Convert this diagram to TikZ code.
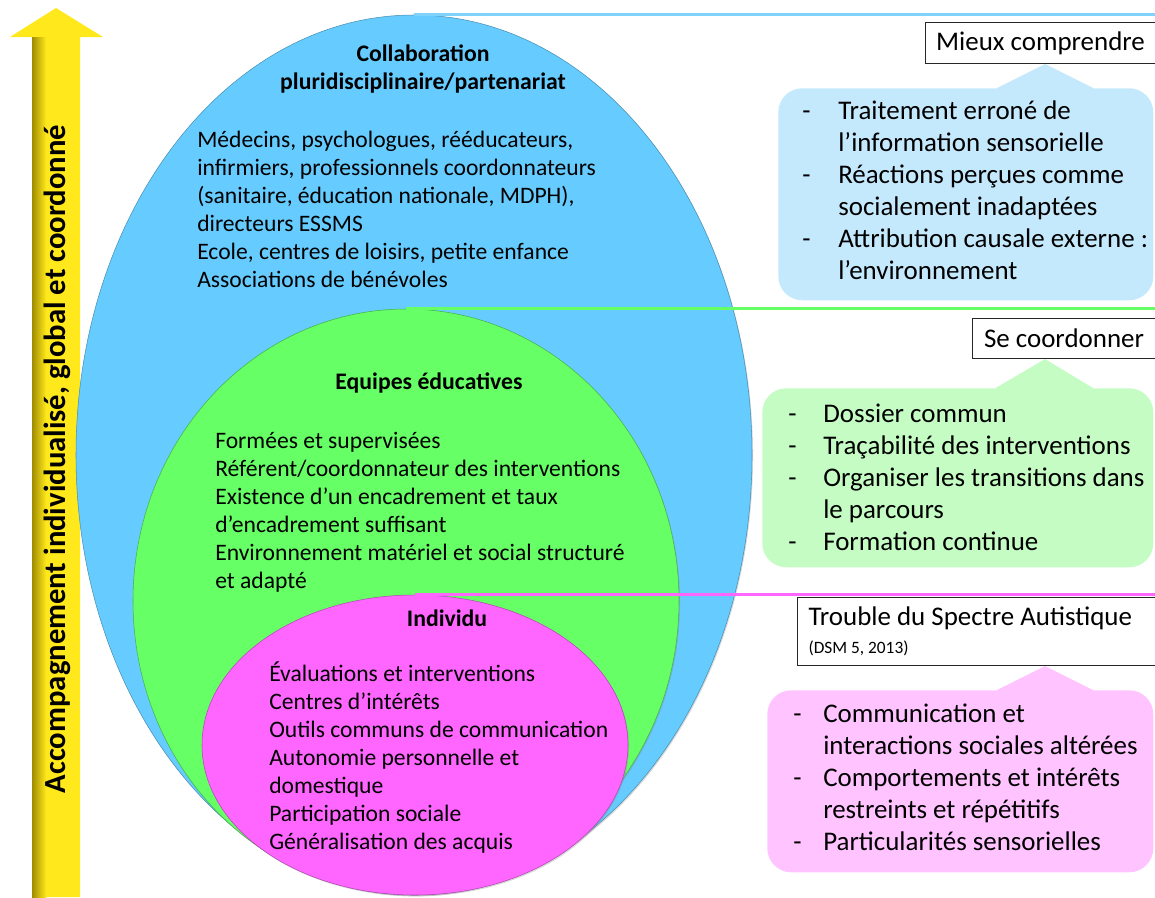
\documentclass[tikz,border=0pt]{standalone}
\usepackage{fontspec}
\setmainfont{Carlito}
\usetikzlibrary{shapes.geometric,shadows}

\definecolor{ringBlue}{HTML}{66CCFF}
\definecolor{ringGreen}{HTML}{66FF66}
\definecolor{ringPink}{HTML}{FF66FF}
\definecolor{lineBlue}{HTML}{80D2FF}
\definecolor{noteBlue}{HTML}{C5E9FC}
\definecolor{noteGreen}{HTML}{C4FCC4}
\definecolor{notePink}{HTML}{FFC4FF}
\definecolor{axisYellow}{HTML}{FFE81C}
\definecolor{axisShade}{HTML}{A08C00}

\newcommand\dashitem[1]{\makebox[#1][l]{-}}

\begin{document}
\begin{tikzpicture}[x=0.75pt,y=-0.75pt,
  ring/.style={ellipse, inner sep=0, fill=#1, draw=#1!70!black, line width=0.4pt,
    drop shadow={shadow xshift=0.8pt, shadow yshift=-1pt, opacity=0.3}},
  level/.style={line width=2.25pt},
  head/.style={font=\fontsize{17.8}{21}\selectfont\bfseries, align=center, inner sep=0},
  body/.style={font=\fontsize{17.7}{21}\selectfont, align=flush left, inner sep=0, anchor=north west},
  tag/.style={draw=black!85, line width=0.75pt, fill=white, anchor=north west,
    font=\fontsize{20.2}{22}\selectfont, inner sep=0},
  note/.style={rounded corners=18pt, fill=#1, anchor=north west, inner sep=0},
  notetext/.style={font=\fontsize{20.2}{24}\selectfont, align=flush left, inner sep=0, anchor=north west},
  pointer/.style={fill=#1}]
\useasboundingbox (0,0) rectangle (1155,897);

% vertical axis arrow
\fill[axisYellow] (32,897) -- (32,37) -- (10,37) -- (56,8) -- (103,37) -- (80,37) -- (80,897) -- cycle;
\shade[left color=axisShade, right color=axisYellow] (32,37) rectangle (46,897);
\node[rotate=90, font=\fontsize{23}{25}\selectfont\bfseries, inner sep=0] (axis) at (57,459)
  {Accompagnement individualisé, global et coordonné};

% nested ellipses with their level lines
\coordinate (edge) at (1155,0);
\node[ring=ringBlue, minimum width=507pt, minimum height=660pt] (blue) at (414,455) {};
\draw[level, lineBlue] (blue.north) -- (blue.north -| edge);
\node[ring=ringGreen, minimum width=409.5pt, minimum height=438pt] (green) at (406,601) {};
\draw[level, ringGreen] (green.north) -- (green.north -| edge);
\node[ring=ringPink, minimum width=319.5pt, minimum height=225pt] (pink) at (415,745) {};
\draw[level, ringPink] (pink.north) -- (pink.north -| edge);

% texts inside the ellipses
\node[head] (collab) at (423,69) {Collaboration\\pluridisciplinaire/partenariat};
\node[body] (collabList) at (197,131) {Médecins, psychologues, rééducateurs,\\
  infirmiers, professionnels coordonnateurs\\
  (sanitaire, éducation nationale, MDPH),\\
  directeurs ESSMS\\
  Ecole, centres de loisirs, petite enfance\\
  Associations de bénévoles};
\node[head] (teams) at (429,383) {Equipes éducatives};
\node[body] (teamsList) at (215,432) {Formées et supervisées\\
  Référent/coordonnateur des interventions\\
  Existence d’un encadrement et taux\\
  d’encadrement suffisant\\
  Environnement matériel et social structuré\\
  et adapté};
\node[head] (person) at (447,618) {Individu};
\node[body] (personList) at (269,662) {Évaluations et interventions\\
  Centres d’intérêts\\
  Outils communs de communication\\
  Autonomie personnelle et\\
  domestique\\
  Participation sociale\\
  Généralisation des acquis};

% right-hand notes
\coordinate (tip) at (1045,0);

\node[note=noteBlue, minimum width=281.25pt, minimum height=159pt] (noteA) at (778,88) {};
\node[tag, minimum width=172.5pt, minimum height=30.75pt] (tagA) at (925,22) {Mieux comprendre};
\fill[pointer=noteBlue] (tip |- tagA.south) -- ([xshift=-36pt]tip |- noteA.north) -- ([xshift=-36pt,yshift=-3pt]tip |- noteA.north)
  -- ([xshift=36pt,yshift=-3pt]tip |- noteA.north) -- ([xshift=36pt]tip |- noteA.north) -- cycle;
\node[notetext] (listA) at (802,101) {\dashitem{27pt}Traitement erroné de\\
  \hspace*{27pt}l’information sensorielle\\
  \dashitem{27pt}Réactions perçues comme\\
  \hspace*{27pt}socialement inadaptées\\
  \dashitem{27pt}Attribution causale externe :\\
  \hspace*{27pt}l’environnement};

\node[note=noteGreen, minimum width=293.25pt, minimum height=134.25pt] (noteB) at (762,388) {};
\node[tag, minimum width=137.25pt, minimum height=30pt] (tagB) at (972,318) {Se coordonner};
\fill[pointer=noteGreen] (tip |- tagB.south) -- ([xshift=-37pt]tip |- noteB.north) -- ([xshift=-37pt,yshift=-3pt]tip |- noteB.north)
  -- ([xshift=36pt,yshift=-3pt]tip |- noteB.north) -- ([xshift=36pt]tip |- noteB.north) -- cycle;
\node[notetext] (listB) at (788,404) {\dashitem{26.25pt}Dossier commun\\
  \dashitem{26.25pt}Traçabilité des interventions\\
  \dashitem{26.25pt}Organiser les transitions dans\\
  \hspace*{26.25pt}le parcours\\
  \dashitem{26.25pt}Formation continue};

\node[note=notePink, minimum width=289.5pt, minimum height=136.5pt] (noteC) at (767,690) {};
\node[tag, minimum width=268.5pt, minimum height=51pt, align=flush left, text width=252pt] (tagC) at (797,597)
  {Trouble du Spectre Autistique\\[-1pt]{\fontsize{13}{15}\selectfont (DSM 5, 2013)}};
\fill[pointer=notePink] (tip |- tagC.south) -- ([xshift=-36pt]tip |- noteC.north) -- ([xshift=-36pt,yshift=-3pt]tip |- noteC.north)
  -- ([xshift=36pt,yshift=-3pt]tip |- noteC.north) -- ([xshift=36pt]tip |- noteC.north) -- cycle;
\node[notetext] (listC) at (793,704) {\dashitem{22.5pt}Communication et\\
  \hspace*{22.5pt}interactions sociales altérées\\
  \dashitem{22.5pt}Comportements et intérêts\\
  \hspace*{22.5pt}restreints et répétitifs\\
  \dashitem{22.5pt}Particularités sensorielles};
\end{tikzpicture}
\end{document}
